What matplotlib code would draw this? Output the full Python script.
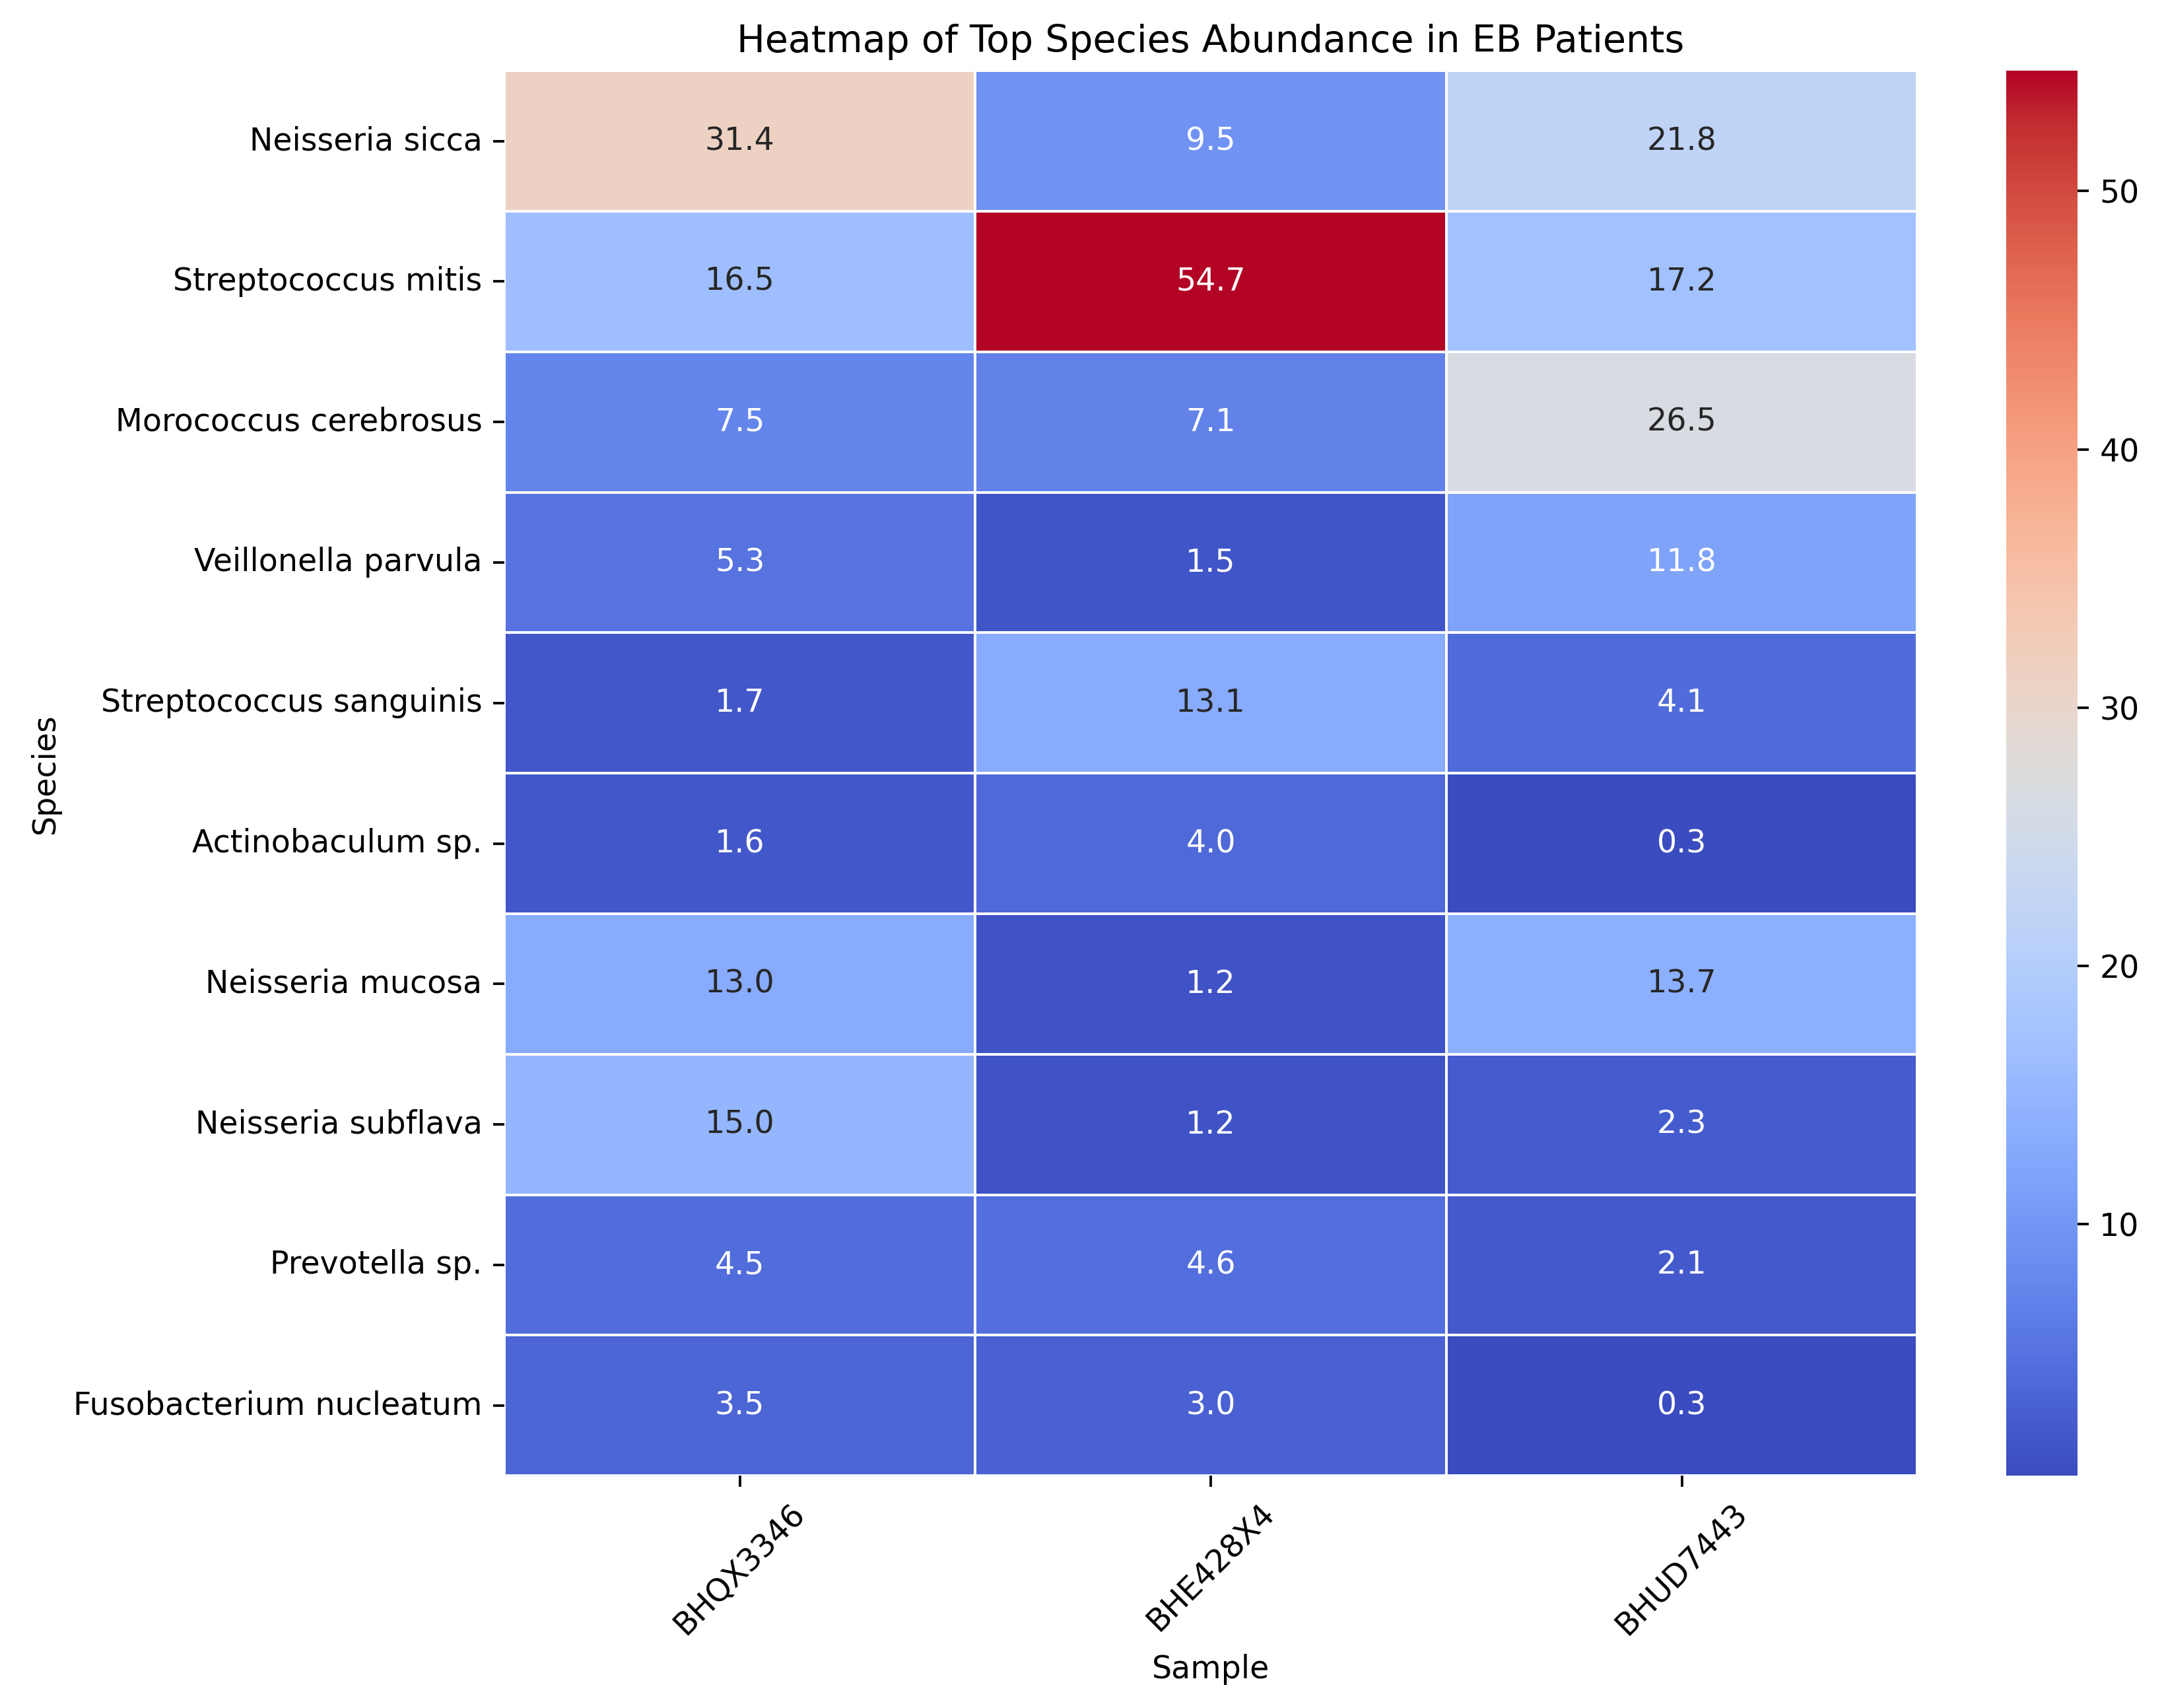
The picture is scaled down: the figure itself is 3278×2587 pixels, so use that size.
import numpy as np
import pandas as pd
import matplotlib
matplotlib.use('Agg')
import matplotlib.pyplot as plt
import seaborn as sns

species = ['Neisseria sicca', 'Streptococcus mitis', 'Morococcus cerebrosus',
           'Veillonella parvula', 'Streptococcus sanguinis', 'Actinobaculum sp.',
           'Neisseria mucosa', 'Neisseria subflava', 'Prevotella sp.',
           'Fusobacterium nucleatum']
samples = ['BHQX3346', 'BHE428X4', 'BHUD7443']

# values as read from the cell annotations (shown rounded to 1 decimal)
bhqx3346 = [31.4, 16.5, 7.5, 5.3, 1.7, 1.6, 13.04, 15.0, 4.5, 3.5]
bhe428x4 = [9.5, 54.66, 7.1, 1.5, 13.1, 4.0, 1.2, 1.2, 4.6, 3.0]
bhud7443 = [21.8, 17.2, 26.5, 11.8, 4.1, 0.26, 13.7, 2.3, 2.1, 0.28]

df = pd.DataFrame({'BHQX3346': bhqx3346, 'BHE428X4': bhe428x4, 'BHUD7443': bhud7443},
                  index=species)[samples]

dpi = 342
fig = plt.figure(figsize=(3278 / dpi, 2587 / dpi), dpi=dpi)
ax = fig.add_axes([0.233, 0.136, 0.653, 0.8226])
cax = fig.add_axes([0.927, 0.136, 0.033, 0.8226])

sns.heatmap(df, annot=True, fmt='.1f', cmap='coolwarm', linewidths=0.5,
            ax=ax, cbar_ax=cax)
ax.set_title('Heatmap of Top Species Abundance in EB Patients', fontsize=12)
ax.set_xlabel('Sample')
ax.set_ylabel('Species')
plt.setp(ax.get_xticklabels(), rotation=45, ha='center')
plt.setp(ax.get_yticklabels(), rotation=0)

fig.savefig('out.png', dpi=dpi)
